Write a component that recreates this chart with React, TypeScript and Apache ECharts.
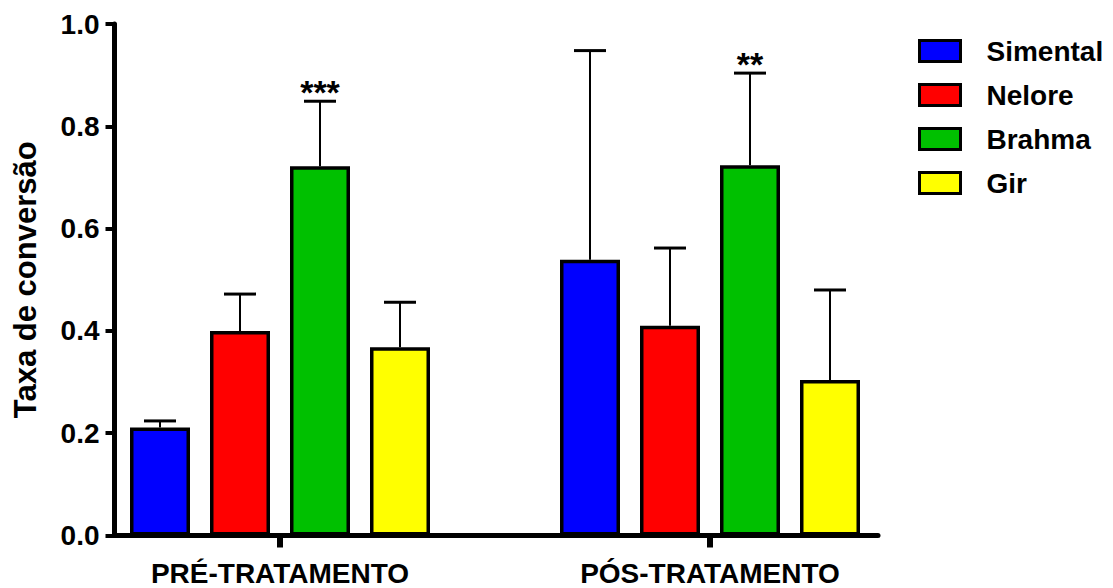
import React, { useEffect, useRef } from "react";
import * as echarts from "echarts";

const categories = ["PRÉ-TRATAMENTO", "PÓS-TRATAMENTO"];
const breeds = ["Simental", "Nelore", "Brahma", "Gir"];
const colors = ["#0000FF", "#FF0000", "#00C000", "#FFFF00"];
// mean values per breed: [pre, post]
const simentalMean = [0.211, 0.539];
const neloreMean = [0.4, 0.41];
const brahmaMean = [0.722, 0.724];
const girMean = [0.368, 0.304];
// upper end of error bars: [pre, post]
const simentalUpper = [0.224, 0.948];
const neloreUpper = [0.472, 0.562];
const brahmaUpper = [0.849, 0.904];
const girUpper = [0.456, 0.48];
// significance marks: [pre, post]
const simentalStars = ["", ""];
const neloreStars = ["", ""];
const brahmaStars = ["***", "**"];
const girStars = ["", ""];
const yTicks = [0, 0.2, 0.4, 0.6, 0.8, 1.0];

const means = [simentalMean, neloreMean, brahmaMean, girMean];
const uppers = [simentalUpper, neloreUpper, brahmaUpper, girUpper];
const stars = [simentalStars, neloreStars, brahmaStars, girStars];

const BAR_W = 60;
const BAR_GAP = 20;
const FONT = "'Liberation Sans', Arial, sans-serif";

export default function App() {
  const ref = useRef<HTMLDivElement>(null);
  useEffect(() => {
    if (!ref.current) return;
    const chart = echarts.init(ref.current, undefined, { renderer: "svg" });

    const errData: any[] = [];
    const errStars: string[] = [];
    means.forEach((m, b) => {
      m.forEach((v, c) => {
        errData.push([c, b, v, uppers[b][c]]);
        errStars.push(stars[b][c]);
      });
    });

    const option: any = {
      animation: false,
      backgroundColor: "#ffffff",
      textStyle: { fontFamily: FONT },
      grid: [
        { left: 65, right: 188, top: 24, bottom: 52.5 },
        { left: 114.5, right: 235, top: 24, bottom: 52.5 },
      ],
      xAxis: [
        {
          type: "category",
          gridIndex: 0,
          data: categories,
          axisLine: { show: false },
          axisTick: {
            show: true,
            alignWithLabel: true,
            length: 12,
            lineStyle: { color: "#000", width: 6 },
          },
          axisLabel: {
            color: "#000",
            fontSize: 28,
            fontWeight: "bold",
            fontFamily: FONT,
            margin: 24,
          },
        },
        {
          type: "value",
          gridIndex: 1,
          min: 0,
          max: 1,
          axisLine: { show: true, lineStyle: { color: "#000", width: 5 } },
          axisTick: { show: false },
          axisLabel: { show: false },
          splitLine: { show: false },
        },
      ],
      yAxis: [
        {
          type: "value",
          gridIndex: 0,
          min: 0,
          max: 1,
          show: false,
        },
        {
          type: "value",
          gridIndex: 1,
          min: 0,
          max: 1,
          interval: 0.2,
          name: "Taxa de conversão",
          nameLocation: "middle",
          nameGap: 74,
          nameTextStyle: {
            color: "#000",
            fontSize: 31,
            fontWeight: "bold",
            fontFamily: FONT,
          },
          axisLine: { show: true, lineStyle: { color: "#000", width: 5 } },
          axisTick: {
            show: true,
            length: 9,
            lineStyle: { color: "#000", width: 4 },
          },
          axisLabel: {
            color: "#000",
            fontSize: 28,
            fontWeight: "bold",
            fontFamily: FONT,
            margin: 15,
            formatter: (v: number) =>
              yTicks.some((t) => Math.abs(t - v) < 1e-9) ? v.toFixed(1) : "",
          },
          splitLine: { show: false },
        },
      ],
      legend: {
        orient: "vertical",
        left: 918,
        top: 37,
        padding: 0,
        itemWidth: 41,
        itemHeight: 21,
        itemGap: 16,
        icon: "rect",
        data: breeds,
        itemStyle: { borderColor: "#000", borderWidth: 3 },
        formatter: (name: string) => `{s|}${name}`,
        textStyle: {
          color: "#000",
          fontSize: 28,
          fontWeight: "bold",
          fontFamily: FONT,
          lineHeight: 28,
          rich: { s: { width: 21, height: 28 } },
        },
      },
      series: [
        ...breeds.map((b, i) => ({
          name: b,
          type: "bar",
          xAxisIndex: 0,
          yAxisIndex: 0,
          data: means[i],
          barWidth: BAR_W,
          barGap: `${(BAR_GAP / BAR_W) * 100}%`,
          itemStyle: { color: colors[i], borderColor: "#000", borderWidth: 3.5 },
          z: 2,
        })),
        {
          type: "custom",
          xAxisIndex: 0,
          yAxisIndex: 0,
          data: errData,
          encode: { x: 0, y: 3 },
          z: 3,
          renderItem: (params: any, api: any) => {
            const cat = api.value(0);
            const breed = api.value(1);
            const mean = api.value(2);
            const up = api.value(3);
            const base = api.coord([cat, mean]);
            const top = api.coord([cat, up]);
            const x = base[0] + (breed - 1.5) * (BAR_W + BAR_GAP);
            const children: any[] = [
              {
                type: "line",
                shape: { x1: x, y1: base[1], x2: x, y2: top[1] },
                style: { stroke: "#000", lineWidth: 2 },
              },
              {
                type: "line",
                shape: { x1: x - 16, y1: top[1], x2: x + 16, y2: top[1] },
                style: { stroke: "#000", lineWidth: 3 },
              },
            ];
            const s = errStars[params.dataIndex];
            if (s) {
              children.push({
                type: "text",
                x: x,
                y: top[1] + 8,
                style: {
                  text: s,
                  fill: "#000",
                  fontSize: 34,
                  fontWeight: "bold",
                  fontFamily: FONT,
                  textAlign: "center",
                  textVerticalAlign: "bottom",
                },
              });
            }
            return { type: "group", children };
          },
        },
      ],
    };
    chart.setOption(option);
    return () => chart.dispose();
  }, []);
  return (
    <div
      ref={ref}
      style={{ position: "fixed", left: 0, top: 0, width: 1113, height: 588 }}
    />
  );
}
